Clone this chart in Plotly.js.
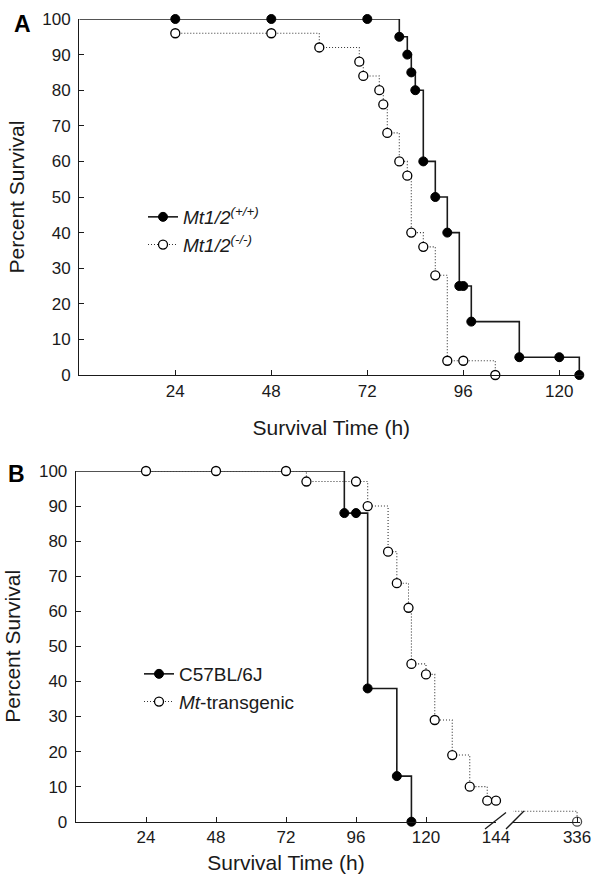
<!DOCTYPE html>
<html>
<head>
<meta charset="utf-8">
<script src="https://cdn.plot.ly/plotly-3.0.1.min.js"></script>
<style>html,body{margin:0;padding:0;background:#fff}#chart{width:594px;height:880px}</style>
</head>
<body>
<div id="chart"></div>
<script>
// ---- Panel A data (Mt1/2 wild type vs knockout) ----
const A_time_wt = [24, 48, 72, 80, 82, 83, 84, 86, 89, 92, 95, 96, 98, 110, 120, 125];
const A_surv_wt = [100, 100, 100, 95, 90, 85, 80, 60, 50, 40, 25, 25, 15, 5, 5, 0];
const A_time_ko = [24, 48, 60, 70, 71, 75, 76, 77, 80, 82, 83, 86, 89, 92, 96, 104];
const A_surv_ko = [96, 96, 92, 88, 84, 80, 76, 68, 60, 56, 40, 36, 28, 4, 4, 0];
// ---- Panel B data (C57BL/6J vs Mt-transgenic) ----
const B_time_c57 = [92, 96, 100, 110, 115];
const B_surv_c57 = [88, 88, 38, 13, 0];
const B_time_tg = [24, 48, 72, 79, 96, 100, 107, 110, 114, 115, 120, 123, 129, 135, 141, 144, 150, 336];
const B_surv_tg = [100, 100, 100, 97, 97, 90, 77, 68, 61, 45, 42, 29, 19, 10, 6, 6, 3, 0];
const B_mark_tg = [1, 1, 1, 1, 1, 1, 1, 1, 1, 1, 1, 1, 1, 1, 1, 1, 0, 1];
const START_TIME = 0, START_SURV = 100;
const A_xticks = [24, 48, 72, 96, 120];
const B_xticks_left = [24, 48, 72, 96, 120, 144];
const B_xticks_right = [336];
const yticks = [0, 10, 20, 30, 40, 50, 60, 70, 80, 90, 100];
const BREAK_LO = 144;

const W = 594, H = 880;
const px = v => v / W, py = v => (H - v) / H;
const FONT = 'Liberation Sans, Arial, sans-serif';
const INK = '#1a1a1a';

const solidLine = {color: INK, width: 1.6, shape: 'hv'};
const dotLine = {color: '#333', width: 1.1, dash: '1px,2px', shape: 'hv'};
const filledMk = {symbol: 'circle', size: 9, color: '#000', line: {color: '#000', width: 1}};
const openMk = {symbol: 'circle', size: 9, color: '#fff', line: {color: '#000', width: 1.3}};

const traces = [];
// Panel A
traces.push({x: A_time_ko, y: A_surv_ko, xaxis: 'x', yaxis: 'y', mode: 'lines+markers', line: dotLine, marker: openMk,
  name: '<i>Mt1/2</i><sup><i>(-/-)</i></sup>', legend: 'legend', legendrank: 2, cliponaxis: false});
traces.push({x: [START_TIME, A_time_wt[0]], y: [START_SURV, A_surv_wt[0]], xaxis: 'x', yaxis: 'y', mode: 'lines', line: solidLine, showlegend: false});
traces.push({x: A_time_wt, y: A_surv_wt, xaxis: 'x', yaxis: 'y', mode: 'lines+markers', line: solidLine, marker: filledMk,
  name: '<i>Mt1/2</i><sup><i>(+/+)</i></sup>', legend: 'legend', legendrank: 1, cliponaxis: false});

// Panel B
traces.push({x: [START_TIME, B_time_c57[0]], y: [START_SURV, B_surv_c57[0]], xaxis: 'x2', yaxis: 'y2', mode: 'lines', line: solidLine, showlegend: false});
traces.push({x: B_time_c57, y: B_surv_c57, xaxis: 'x2', yaxis: 'y2', mode: 'lines+markers', line: solidLine, marker: filledMk,
  name: 'C57BL/6J', legend: 'legend2', legendrank: 1, cliponaxis: false});
const leftIdx = B_time_tg.map((t, i) => i).filter(i => B_time_tg[i] <= BREAK_LO);
const rightIdx = B_time_tg.map((t, i) => i).filter(i => B_time_tg[i] > BREAK_LO);
traces.push({x: leftIdx.map(i => B_time_tg[i]), y: leftIdx.map(i => B_surv_tg[i]), xaxis: 'x2', yaxis: 'y2', mode: 'lines+markers',
  line: dotLine, marker: openMk, name: '<i>Mt</i>-transgenic', legend: 'legend2', legendrank: 2, cliponaxis: false});
traces.push({x: rightIdx.map(i => B_time_tg[i]), y: rightIdx.map(i => B_surv_tg[i]), xaxis: 'x3', yaxis: 'y2', mode: 'lines+markers',
  line: dotLine, marker: Object.assign({}, openMk, {size: rightIdx.map(i => B_mark_tg[i] ? 9 : 0)}), showlegend: false, cliponaxis: false});

const tickFont = {family: FONT, size: 17, color: INK};
const titleFont = {family: FONT, size: 21, color: INK};
const axBase = {showline: true, linecolor: INK, linewidth: 1.3, ticks: 'inside', ticklen: 5, tickwidth: 1, tickcolor: INK,
  showgrid: false, zeroline: false, tickfont: tickFont, fixedrange: true};

const layout = {
  width: W, height: H, margin: {l: 0, r: 0, t: 0, b: 0}, paper_bgcolor: '#fff', plot_bgcolor: 'rgba(0,0,0,0)',
  font: {family: FONT, color: INK},
  xaxis: Object.assign({}, axBase, {domain: [px(79.3), px(583.3)], range: [0, 126], anchor: 'y', tickvals: A_xticks,
    title: {text: 'Survival Time (h)', font: titleFont, standoff: 20}}),
  yaxis: Object.assign({}, axBase, {domain: [py(375), py(19)], range: [0, 100], anchor: 'x', tickvals: yticks, ticklabelstandoff: 4,
    title: {text: 'Percent Survival', font: titleFont, standoff: 12}}),
  xaxis2: Object.assign({}, axBase, {domain: [px(76), px(496)], range: [0, 144], anchor: 'y2', tickvals: B_xticks_left,
    title: {text: 'Survival Time (h)', font: titleFont, standoff: 9}}),
  yaxis2: Object.assign({}, axBase, {domain: [py(821.7), py(471)], range: [0, 100], anchor: 'x2', tickvals: yticks, ticklabelstandoff: 4,
    title: {text: 'Percent Survival', font: titleFont, standoff: 12}}),
  xaxis3: Object.assign({}, axBase, {domain: [px(513), px(580)], range: [314, 337], anchor: 'y2', tickvals: B_xticks_right}),
  legend: {x: px(143), y: py(198), xanchor: 'left', yanchor: 'top', bgcolor: 'rgba(0,0,0,0)', borderwidth: 0,
    font: {family: FONT, size: 19, color: INK}, traceorder: 'normal', tracegroupgap: 0},
  legend2: {x: px(139), y: py(655), xanchor: 'left', yanchor: 'top', bgcolor: 'rgba(0,0,0,0)', borderwidth: 0,
    font: {family: FONT, size: 19, color: INK}, traceorder: 'normal', tracegroupgap: 0},
  annotations: [
    {text: '<b>A</b>', x: px(22), y: py(24), xref: 'paper', yref: 'paper', xanchor: 'center', yanchor: 'middle', showarrow: false, font: {family: FONT, size: 23, color: '#000'}},
    {text: '<b>B</b>', x: px(16.5), y: py(473.5), xref: 'paper', yref: 'paper', xanchor: 'center', yanchor: 'middle', showarrow: false, font: {family: FONT, size: 23, color: '#000'}}
  ],
  shapes: [
    {type: 'line', xref: 'paper', yref: 'paper', x0: px(485), y0: py(829), x1: px(506), y1: py(812.5), line: {color: INK, width: 1.3}},
    {type: 'line', xref: 'paper', yref: 'paper', x0: px(506), y0: py(829), x1: px(524), y1: py(811), line: {color: INK, width: 1.3}}
  ]
};

Plotly.newPlot('chart', traces, layout, {staticPlot: true, displayModeBar: false});
</script>
</body>
</html>
